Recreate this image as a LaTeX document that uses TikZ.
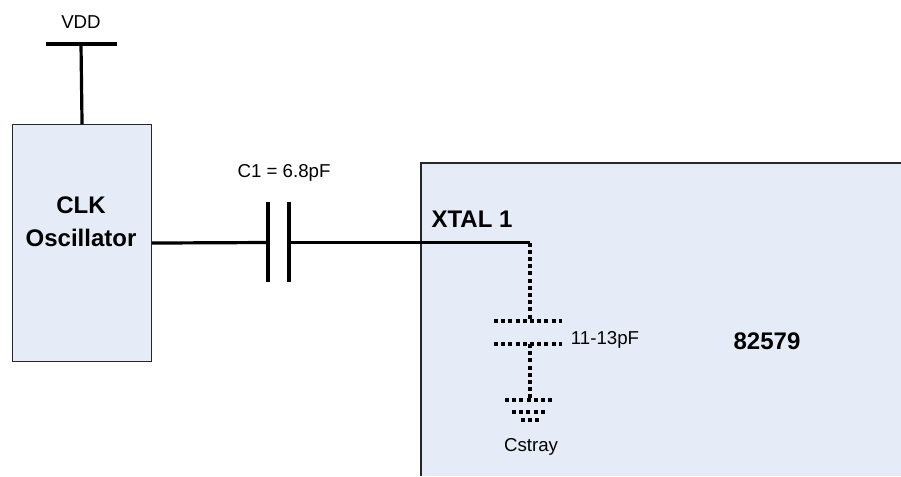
\documentclass[tikz,border=0pt]{standalone}
\usepackage{fontspec}
\setmainfont{Liberation Sans}
\definecolor{boxfill}{RGB}{230,236,247}
\begin{document}
\begin{tikzpicture}[x=0.75pt,y=-0.75pt,
  wire/.style={line width=2.4pt},
  strayline/.style={line width=2.5pt, dash pattern=on 3pt off 2.4pt},
  blockbox/.style={draw=black!85, line width=0.8pt, fill=boxfill},
  lbl/.style={font=\fontsize{14}{16}\selectfont, inner sep=0pt},
  blbl/.style={font=\fontsize{18}{24.5}\selectfont\bfseries, inner sep=0pt, align=center}]
  \useasboundingbox (0,0) rectangle (901,476);
  % chip (runs off the page to the right and below)
  \fill[boxfill] (421,163) rectangle (901,476);
  \draw[draw=black!85, line width=0.8pt] (421,476) -- (421,163) -- (901,163);
  \node[blbl] (chip) at (767,341) {82579};
  \node[blbl] (xtal) at (472,219) {XTAL 1};
  % oscillator
  \node[blockbox, minimum width=104.25pt, minimum height=177.75pt, anchor=north west] (osc) at (12,124) {};
  \node[blbl] (osclbl) at (81,222) {CLK\\Oscillator};
  % supply
  \node[lbl] (vdd) at (81,22) {VDD};
  \coordinate (vddl) at (46,44);
  \coordinate (vddr) at (117,44);
  \coordinate (vddm) at (81,44);
  \draw[wire] (vddl) -- (vddr);
  \draw[wire] (vddm) -- (osc.north);
  % C1
  \coordinate (c1a) at (268,242.5);
  \coordinate (c1b) at (289,242.5);
  \coordinate (tap) at (530,242.5);
  \node[lbl] (c1lbl) at (284,173) {C1 = 6.8pF};
  \draw[wire] (osc.east) -- (c1a);
  \draw[wire] (268,202) -- (268,282);
  \draw[wire] (289,202) -- (289,282);
  \draw[wire] (c1b) -- (tap);
  % stray capacitance
  \coordinate (cs1) at (530,321);
  \coordinate (cs2) at (530,344);
  \coordinate (gnd) at (530,400);
  \draw[strayline] (tap) -- (cs1);
  \draw[strayline] (494,321) -- (562,321);
  \draw[strayline] (494,344) -- (562,344);
  \draw[strayline] (cs2) -- (gnd);
  \draw[strayline] (505,400) -- (555,400);
  \draw[strayline] (512,412) -- (546,412);
  \draw[strayline] (521,420) -- (539,420);
  \node[lbl] (cslbl) at (605,340) {11-13pF};
  \node[lbl] (cstray) at (531,447) {Cstray};
\end{tikzpicture}
\end{document}
